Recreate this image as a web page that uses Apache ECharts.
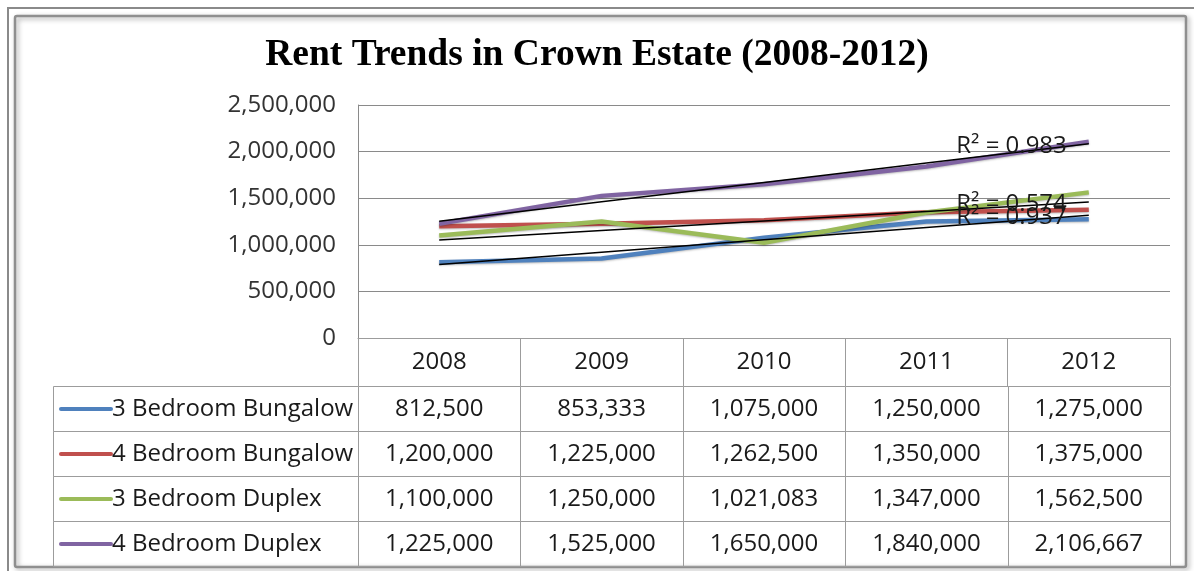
<!DOCTYPE html>
<html>
<head>
<meta charset="utf-8">
<script src="https://cdn.jsdelivr.net/npm/echarts@6/dist/echarts.min.js"></script>
<style>
html,body{margin:0;padding:0;background:#fff;}
#chart{width:1194px;height:571px;}
</style>
</head>
<body>
<div id="chart"></div>
<script>
const years = ['2008', '2009', '2010', '2011', '2012'];
const seriesNames = ['3 Bedroom Bungalow', '4 Bedroom Bungalow', '3 Bedroom Duplex', '4 Bedroom Duplex'];
const bungalow3 = [812500, 853333, 1075000, 1250000, 1275000];
const bungalow4 = [1200000, 1225000, 1262500, 1350000, 1375000];
const duplex3 = [1100000, 1250000, 1021083, 1347000, 1562500];
const duplex4 = [1225000, 1525000, 1650000, 1840000, 2106667];
const colors = ['#4F81BD', '#C0504D', '#9BBB59', '#8064A2'];
// linear trendlines shown for these series (index into allSeries), with their R² labels
const trendIndex = [0, 2, 3];
const trendLabels = ['R\u00B2 = 0.937', 'R\u00B2 = 0.574', 'R\u00B2 = 0.983'];

const allSeries = [bungalow3, bungalow4, duplex3, duplex4];
const FONT = '"Open Sans", sans-serif';
const FS = 24;
const TEXT = '#1a1a1a';
const GRID = '#8a8a8a';
const BORDER = '#9c9c9c';

function linearFit(vals) {
  const n = vals.length;
  let sx = 0, sy = 0, sxy = 0, sxx = 0;
  vals.forEach((y, x) => { sx += x; sy += y; sxy += x * y; sxx += x * x; });
  const b = (n * sxy - sx * sy) / (n * sxx - sx * sx);
  const a = (sy - b * sx) / n;
  return vals.map((_, x) => a + b * x);
}
const fmt = v => v.toLocaleString('en-US');

const ROW_H0 = 48, ROW_H = 45, LEG_LEFT = 53;

const tableData = [];
for (let r = 0; r < allSeries.length; r++) {
  for (let c = 0; c < years.length; c++) tableData.push([c, r]);
}

function renderCell(params, api) {
  const c = api.value(0), r = api.value(1);
  const p = api.coord([c, 0]);
  const w = api.size([1, 0])[0];
  const left = Math.round(p[0] - w / 2) + 0.5;
  const right = Math.round(p[0] + w / 2) + 0.5;
  const top = Math.round(p[1] + ROW_H0 + r * ROW_H) + 0.5;
  const cy = top + ROW_H / 2;
  const children = [
    { type: 'rect', shape: { x: left, y: top, width: right - left, height: ROW_H },
      style: { fill: 'none', stroke: BORDER, lineWidth: 1 } },
    { type: 'text', x: p[0], y: cy,
      style: { text: fmt(allSeries[r][c]), align: 'center', verticalAlign: 'middle',
               textAlign: 'center', textVerticalAlign: 'middle',
               fontSize: FS, fontFamily: FONT, fill: TEXT } }
  ];
  if (c === 0) {
    children.push(
      { type: 'rect', shape: { x: LEG_LEFT + 0.5, y: top, width: left - LEG_LEFT - 0.5, height: ROW_H },
        style: { fill: 'none', stroke: BORDER, lineWidth: 1 } },
      { type: 'line', shape: { x1: 61, y1: cy, x2: 111, y2: cy },
        style: { stroke: colors[r], lineWidth: 4, lineCap: 'round' } },
      { type: 'text', x: 112, y: cy,
        style: { text: seriesNames[r], align: 'left', verticalAlign: 'middle',
                 textAlign: 'left', textVerticalAlign: 'middle',
                 fontSize: FS, fontFamily: FONT, fill: TEXT } }
    );
  }
  return { type: 'group', children };
}

const lineSeries = allSeries.map((vals, i) => ({
  name: seriesNames[i], type: 'line', data: vals, symbol: 'none',
  lineStyle: { color: colors[i], width: 4.5, shadowColor: 'rgba(0,0,0,0.25)', shadowBlur: 2, shadowOffsetY: 1 },
  itemStyle: { color: colors[i] }, z: 3
}));

const trendSeries = trendIndex.map((si, k) => {
  const fit = linearFit(allSeries[si]);
  return {
    name: 'trend ' + seriesNames[si], type: 'line', z: 4,
    symbol: 'circle', symbolSize: 0, showSymbol: true,
    lineStyle: { color: '#000', width: 1.5 },
    itemStyle: { color: '#000' },
    data: fit.map((v, i) => i === fit.length - 1 ? {
      value: v,
      label: { show: true, position: 'left', distance: 22, offset: [0, 2], formatter: trendLabels[k],
               fontSize: FS, fontFamily: FONT, color: TEXT }
    } : v)
  };
});

const chart = echarts.init(document.getElementById('chart'));
chart.setOption({
  animation: false,
  backgroundColor: '#fff',
  title: {
    text: 'Rent Trends in Crown Estate (2008-2012)', left: 'center', top: 31,
    textStyle: { fontFamily: '"Liberation Serif", "Times New Roman", serif', fontWeight: 'bold', fontSize: 37.5, color: '#000' }
  },
  grid: { left: 358, right: 24, top: 105, bottom: 233 },
  xAxis: {
    type: 'category', data: years, boundaryGap: true,
    axisLine: { show: true, lineStyle: { color: BORDER } },
    axisTick: { show: true, length: ROW_H0, lineStyle: { color: BORDER } },
    axisLabel: { fontSize: FS, fontFamily: FONT, color: TEXT, margin: 12 }
  },
  yAxis: {
    type: 'value', min: 0, max: 2500000, interval: 500000,
    axisLine: { show: true, lineStyle: { color: GRID } },
    axisTick: { show: false },
    splitLine: { lineStyle: { color: GRID } },
    axisLabel: { fontSize: FS, fontFamily: FONT, color: '#333', margin: 22, formatter: v => fmt(v) }
  },
  series: [
    ...lineSeries,
    ...trendSeries,
    { type: 'custom', name: 'table', data: tableData, renderItem: renderCell,
      encode: { x: 0, y: 1 }, clip: false, silent: true, z: 1 }
  ],
  graphic: [
    { type: 'line', shape: { x1: 7, y1: 8, x2: 1194, y2: 8 }, style: { stroke: '#8a8a8a', lineWidth: 2 } },
    { type: 'line', shape: { x1: 8, y1: 7, x2: 8, y2: 571 }, style: { stroke: '#8a8a8a', lineWidth: 2 } },
    { type: 'rect', shape: { x: 15, y: 16, width: 1171, height: 551, r: 2 },
      style: { fill: 'none', stroke: '#8f8f8f', lineWidth: 2.5, shadowColor: 'rgba(0,0,0,0.35)', shadowBlur: 5, shadowOffsetX: 2, shadowOffsetY: 2 } }
  ]
});
</script>
</body>
</html>
